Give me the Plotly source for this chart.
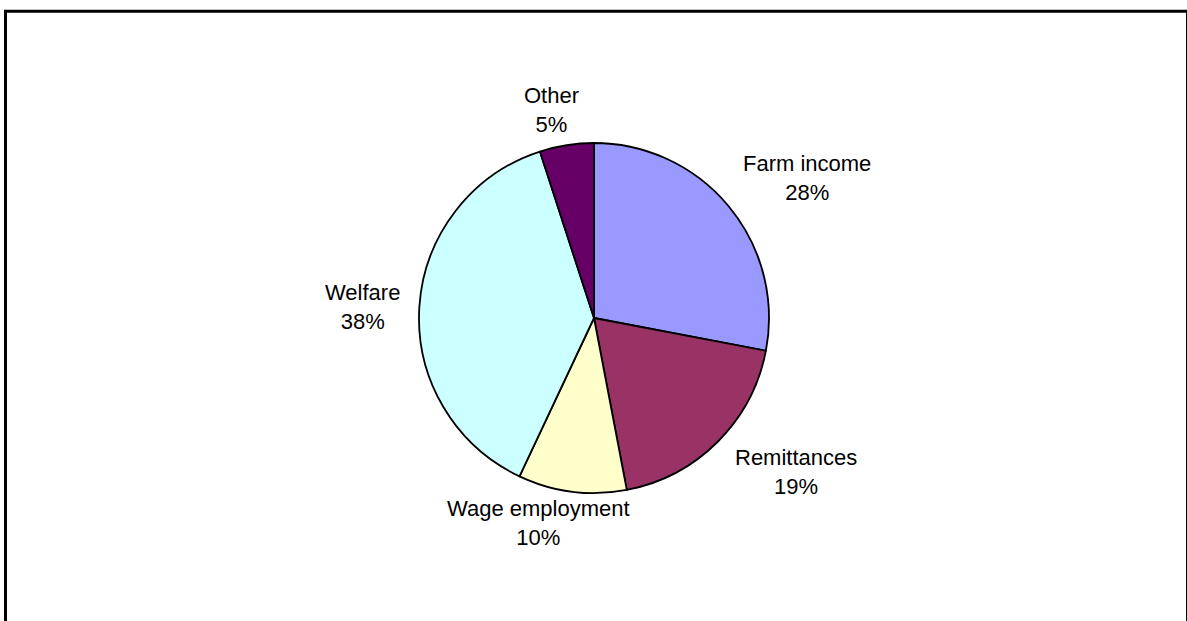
import plotly.graph_objects as go

# Income sources (share of total, %)
categories = ["Farm income", "Remittances", "Wage employment", "Welfare", "Other"]
shares = [28, 19, 10, 38, 5]
colors = ["#9999FF", "#993366", "#FFFFCC", "#CCFFFF", "#660066"]

W, H = 1187, 621
cx, cy, r = 594, 318, 175  # pie centre and radius in pixels

fig = go.Figure(
    go.Pie(
        labels=categories,
        values=shares,
        sort=False,
        direction="clockwise",
        rotation=0,
        marker=dict(colors=colors, line=dict(color="black", width=1.8)),
        textinfo="none",
        hoverinfo="label+percent",
        showlegend=False,
        domain=dict(
            x=[(cx - r) / W, (cx + r) / W],
            y=[1 - (cy + r) / H, 1 - (cy - r) / H],
        ),
    )
)

# Label placement (pixel centres of each two-line label block)
label_pos = {
    "Farm income": (807, 178),
    "Remittances": (796, 472),
    "Wage employment": (538, 523),
    "Welfare": (362, 307),
    "Other": (551, 110),
}
for name, val in zip(categories, shares):
    px, py = label_pos[name]
    fig.add_annotation(
        x=px / W, y=1 - py / H, xref="paper", yref="paper",
        text=f"{name}<br>{val}%", showarrow=False,
        xanchor="center", yanchor="middle", align="center",
        font=dict(family="Liberation Sans, Arial, sans-serif", size=22, color="black"),
    )

# Chart-area frame
fig.add_shape(
    type="rect", xref="paper", yref="paper",
    x0=5.5 / W, x1=1187.5 / W, y0=-0.05, y1=1 - 11.3 / H,
    line=dict(color="black", width=3), fillcolor="rgba(0,0,0,0)",
)

fig.update_layout(
    width=W, height=H,
    margin=dict(l=0, r=0, t=0, b=0),
    paper_bgcolor="white", plot_bgcolor="white",
)

fig.write_html("out.html")
